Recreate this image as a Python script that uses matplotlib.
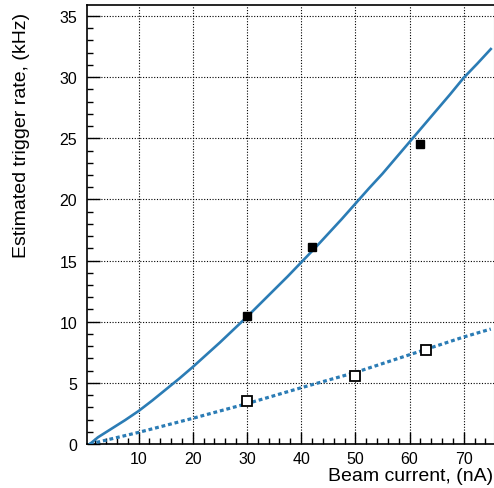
import matplotlib
matplotlib.use('Agg')
import matplotlib.pyplot as plt
from matplotlib.ticker import MultipleLocator

plt.rcParams['font.family'] = ['Liberation Sans', 'DejaVu Sans']

# fit curves
fit_x = [1, 2.5, 5, 7.5, 10, 12.5, 15, 17.5, 20, 22.5, 25, 27.5, 30, 32.5, 35, 37.5, 40,
         42.5, 45, 47.5, 50, 52.5, 55, 57.5, 60, 62.5, 65, 67.5, 70, 72.5, 75]
fit_solid = [0.0, 0.55, 1.25, 1.95, 2.7, 3.55, 4.45, 5.35, 6.3, 7.3, 8.3, 9.35, 10.4, 11.5, 12.6, 13.7, 14.85,
             16.0, 17.2, 18.4, 19.65, 20.9, 22.1, 23.4, 24.7, 26.0, 27.3, 28.6, 29.95, 31.1, 32.3]
fit_dot_x = [1, 10, 20, 30, 40, 50, 60, 70, 75]
fit_dot = [0.0, 0.95, 2.1, 3.3, 4.6, 5.85, 7.3, 8.75, 9.4]

# measured points
full_x = [30, 42, 62]
full_y = [10.5, 16.1, 24.5]
open_x = [30, 50, 63]
open_y = [3.5, 5.6, 7.7]

blue = '#2b7cb5'

fig = plt.figure(figsize=(4.94, 4.89), dpi=100)
ax = fig.add_axes([0.176, 0.09, 0.823, 0.8977])

ax.plot(fit_x, fit_solid, color=blue, lw=1.9, zorder=3)
ax.plot(fit_dot_x, fit_dot, color=blue, lw=2.3, dashes=(1.2, 0.9), zorder=3)
ax.plot(full_x, full_y, 's', color='black', ms=5.8, zorder=4)
ax.plot(open_x, open_y, 's', mfc='white', mec='black', mew=1.3, ms=6.5, zorder=4)

ax.set_xlim(0.46, 75.5)
ax.set_ylim(0, 35.9)

ax.xaxis.set_major_locator(MultipleLocator(10))
ax.xaxis.set_minor_locator(MultipleLocator(2))
ax.yaxis.set_major_locator(MultipleLocator(5))
ax.yaxis.set_minor_locator(MultipleLocator(1))

ax.tick_params(which='both', direction='in', top=False, right=False, labelsize=11.5, color='black')
ax.tick_params(which='major', length=9, width=1)
ax.tick_params(which='minor', length=4.5, width=1)
ax.tick_params(axis='y', which='major', pad=7)
ax.tick_params(axis='x', which='major', pad=5)

ax.grid(True, which='major', color='black', lw=0.8, linestyle=(0, (1, 1.5)))

for s in ['left', 'bottom', 'top']:
    ax.spines[s].set_linewidth(1.2)
ax.spines['right'].set_color('#999999')
ax.spines['right'].set_linewidth(0.8)

ax.set_xlabel('Beam current, (nA)', fontsize=14, loc='right', labelpad=1)
ax.set_ylabel('Estimated trigger rate, (kHz)', fontsize=14, loc='top', labelpad=21)
ax.yaxis.label.set_y(0.985)

fig.savefig('out.png', dpi=100)
